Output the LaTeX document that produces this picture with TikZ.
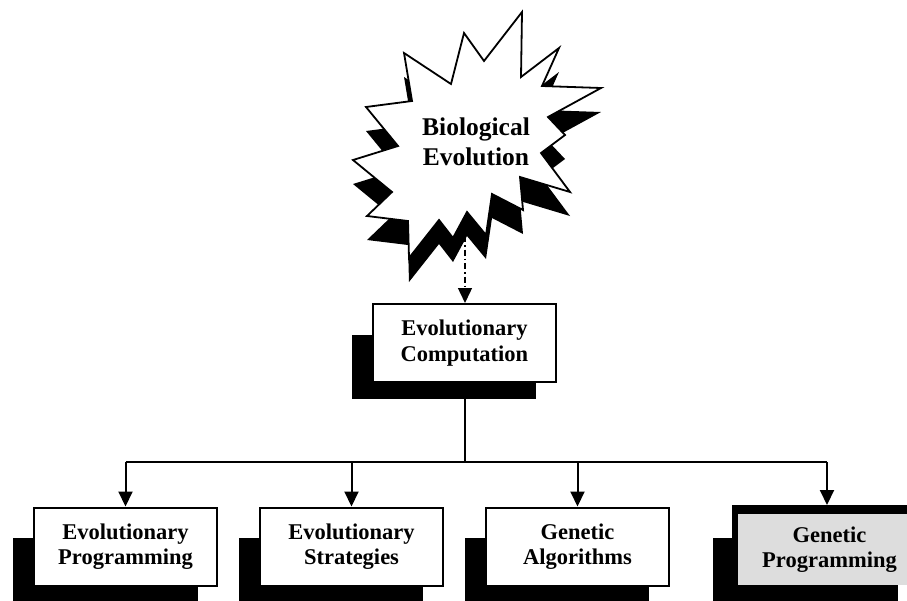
\documentclass[tikz,border=0pt]{standalone}
\usepackage{fontspec}
\setmainfont{Liberation Serif}
\usetikzlibrary{arrows.meta,calc}
\definecolor{gpgray}{RGB}{221,221,221}
\begin{document}
\begin{tikzpicture}[x=1pt,y=-1pt,
  box/.style={draw, line width=2pt, fill=white, minimum width=183pt, minimum height=78pt,
    inner sep=0pt, align=center, font=\fontsize{22.5}{25.5}\selectfont\bfseries},
  gpbox/.style={box, draw=none, fill=gpgray, minimum width=183pt, minimum height=71pt},
  frame/.style={fill=black, inner sep=0pt, minimum width=188pt, minimum height=78pt},
  shade/.style={fill=black},
  conn/.style={line width=2pt, -{Triangle[length=15pt,width=14pt]}},
  link/.style={line width=2pt},
  dashconn/.style={line width=1.4pt, dash pattern=on 6pt off 3pt on 1.5pt off 3pt,
    -{Triangle[length=15pt,width=14pt]}},
  startext/.style={inner sep=0pt, align=center, font=\fontsize{25.5}{30}\selectfont\bfseries}
  ]
\useasboundingbox (0,0) rectangle (907,600);
\clip (0,0) rectangle (907,600);

% starburst shadow
\fill[shade, shift={(0,24)}] (404,53) -- (451,84) -- (464,33) -- (484,61) -- (522,12) -- (521,77)
  -- (559,48) -- (542,86) -- (601,88) -- (548,117) -- (565,135) -- (541,153) -- (570,192)
  -- (520,177) -- (523,210) -- (492,194) -- (486,235) -- (467,212) -- (453,238) -- (439,220)
  -- (409,258) -- (408,221) -- (367,216) -- (392,192) -- (353,160) -- (398,146) -- (366,107)
  -- (412,101) -- cycle;
% starburst
\draw[line width=1.8pt, fill=white, line join=miter] (404,53) -- (451,84) -- (464,33) -- (484,61) -- (522,12) -- (521,77)
  -- (559,48) -- (542,86) -- (601,88) -- (548,117) -- (565,135) -- (541,153) -- (570,192)
  -- (520,177) -- (523,210) -- (492,194) -- (486,235) -- (467,212) -- (453,238) -- (439,220)
  -- (409,258) -- (408,221) -- (367,216) -- (392,192) -- (353,160) -- (398,146) -- (366,107)
  -- (412,101) -- cycle;
\node[startext] (bio) at (476,141.5) {Biological\\Evolution};
\coordinate (bioout) at (465,236);

% box shadows
\fill[shade] (352,335) rectangle (536,399);
\fill[shade] (13,538) rectangle (198,602);
\fill[shade] (239,538) rectangle (423,602);
\fill[shade] (465,538) rectangle (649,602);
\fill[shade] (713,538) rectangle (898,602);

% boxes
\node[box] (ec) at (464.5,343) {Evolutionary\\Computation};
\node[box] (ep) at (125.5,546.5) {Evolutionary\\Programming};
\node[box] (es) at (351.5,546.5) {Evolutionary\\Strategies};
\node[box] (ga) at (577.5,546.5) {Genetic\\Algorithms};
\node[frame, anchor=north west] (gpf) at (732,505) {};
\node[gpbox, anchor=north west] (gp) at (737,513) {Genetic\\Programming};

% connectors
\draw[dashconn] (bioout) -- (bioout |- ec.north);
\coordinate (bus) at (0,462);
\coordinate (gpin) at (827,462);
\draw[link] (ec.south) -- (ec.south |- bus);
\draw[link] (ep.north |- bus) -- (gpin);
\draw[conn] (ep.north |- bus) -- (ep.north);
\draw[conn] (es.north |- bus) -- (es.north);
\draw[conn] (ga.north |- bus) -- (ga.north);
\draw[conn] (gpin) -- (gpin |- gpf.north);
\end{tikzpicture}
\end{document}
